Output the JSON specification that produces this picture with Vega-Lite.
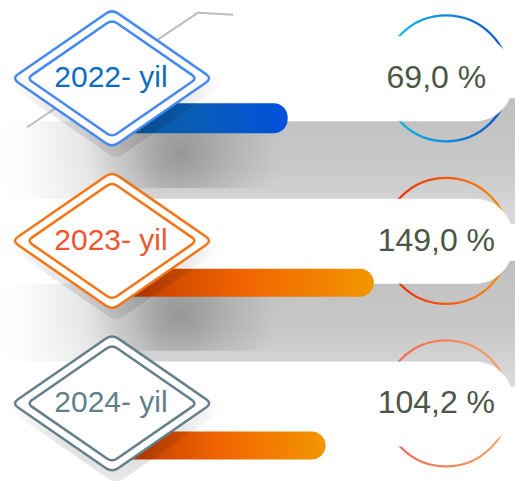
{
  "$schema": "https://vega.github.io/schema/vega-lite/v6.json",
  "width": 515,
  "height": 481,
  "autosize": {"type": "fit", "contains": "padding"},
  "padding": 0,
  "background": "white",
  "config": {"view": {"stroke": null}, "font": "Liberation Sans"},
  "data": {"values": [
    {"year": 2022, "label": "2022- yil", "value": 69.0},
    {"year": 2023, "label": "2023- yil", "value": 149.0},
    {"year": 2024, "label": "2024- yil", "value": 104.2}
  ]},
  "layer": [
    {
      "transform": [{"filter": "datum.year < 2024"}],
      "mark": {"type": "rect", "yOffset": 20, "y2Offset": 146,
        "fill": {"gradient": "linear", "x1": 0, "y1": 0, "x2": 0, "y2": 1, "stops": [
          {"offset": 0, "color": "#c0c0c0"}, {"offset": 0.55, "color": "#c8c8c8"}, {"offset": 1, "color": "#dcdcdc"}]}},
      "encoding": {
        "x": {"datum": -198, "type": "quantitative", "scale": {"domain": [-198, 280], "nice": false, "zero": false}, "axis": null},
        "x2": {"datum": 280},
        "y": {"field": "year", "type": "quantitative", "scale": {"domain": [2021.518, 2024.416], "reverse": true, "nice": false, "zero": false}, "axis": null},
        "y2": {"field": "year"}
      }
    },
    {
      "transform": [{"filter": "datum.year < 2024"}],
      "mark": {"type": "rect", "yOffset": 20, "y2Offset": 146,
        "fill": {"gradient": "linear", "x1": 0, "y1": 0, "x2": 1, "y2": 0, "stops": [
          {"offset": 0, "color": "rgba(255,255,255,1)"}, {"offset": 0.15, "color": "rgba(255,255,255,0.95)"}, {"offset": 0.6, "color": "rgba(255,255,255,0.5)"}, {"offset": 1, "color": "rgba(255,255,255,0)"}]}},
      "encoding": {
        "x": {"datum": -198, "type": "quantitative"},
        "x2": {"datum": -50},
        "y": {"field": "year", "type": "quantitative"},
        "y2": {"field": "year"}
      }
    },
    {
      "transform": [{"filter": "datum.year < 2024"}],
      "mark": {"type": "rect", "yOffset": 40, "y2Offset": 110,
        "fill": {"gradient": "radial", "x1": 0.5, "y1": 0.5, "r1": 0, "x2": 0.5, "y2": 0.5, "r2": 0.5, "stops": [
          {"offset": 0, "color": "rgba(0,0,0,0.24)"}, {"offset": 0.5, "color": "rgba(0,0,0,0.1)"}, {"offset": 1, "color": "rgba(0,0,0,0)"}]}},
      "encoding": {
        "x": {"datum": -120, "type": "quantitative"},
        "x2": {"datum": 60},
        "y": {"field": "year", "type": "quantitative"},
        "y2": {"field": "year"}
      }
    },
    {
      "transform": [{"filter": "datum.year == 2022"}],
      "mark": {"type": "point", "shape": "circle", "filled": false, "size": 15876, "strokeWidth": 2.2, "opacity": 1,
        "stroke": {"gradient": "linear", "x1": 0, "y1": 0, "x2": 1, "y2": 0, "stops": [
          {"offset": 0, "color": "#12c6e6"}, {"offset": 1, "color": "#0850d0"}]}},
      "encoding": {"x": {"datum": 216, "type": "quantitative"}, "y": {"field": "year", "type": "quantitative"}}
    },
    {
      "transform": [{"filter": "datum.year == 2023"}],
      "mark": {"type": "point", "shape": "circle", "filled": false, "size": 15876, "strokeWidth": 2.2, "opacity": 1,
        "stroke": {"gradient": "linear", "x1": 0, "y1": 0, "x2": 1, "y2": 0, "stops": [
          {"offset": 0, "color": "#f01e00"}, {"offset": 1, "color": "#f59010"}]}},
      "encoding": {"x": {"datum": 216, "type": "quantitative"}, "y": {"field": "year", "type": "quantitative"}}
    },
    {
      "transform": [{"filter": "datum.year == 2024"}],
      "mark": {"type": "point", "shape": "circle", "filled": false, "size": 15876, "strokeWidth": 2.2, "opacity": 1,
        "stroke": {"gradient": "linear", "x1": 0, "y1": 0, "x2": 1, "y2": 0, "stops": [
          {"offset": 0, "color": "#f06050"}, {"offset": 1, "color": "#f5a868"}]}},
      "encoding": {"x": {"datum": 216, "type": "quantitative"}, "y": {"field": "year", "type": "quantitative"}}
    },
    {
      "mark": {"type": "rect", "fill": "white", "cornerRadiusTopRight": 38, "cornerRadiusBottomRight": 38, "yOffset": -42, "y2Offset": 43},
      "encoding": {
        "x": {"datum": -198, "type": "quantitative"},
        "x2": {"datum": 278},
        "y": {"field": "year", "type": "quantitative"},
        "y2": {"field": "year"}
      }
    },
    {
      "transform": [{"filter": "datum.year == 2022"}],
      "mark": {"type": "rect", "cornerRadius": 14, "yOffset": 25, "y2Offset": 55,
        "fill": {"gradient": "linear", "x1": 0, "y1": 0, "x2": 1, "y2": 0, "stops": [
          {"offset": 0, "color": "#0a5a98"}, {"offset": 0.5, "color": "#0a5cb8"}, {"offset": 1, "color": "#0050dc"}]}},
      "encoding": {
        "x": {"field": "value", "type": "quantitative"},
        "x2": {"datum": -96},
        "y": {"field": "year", "type": "quantitative"},
        "y2": {"field": "year"}
      }
    },
    {
      "transform": [{"filter": "datum.year > 2022"}],
      "mark": {"type": "rect", "cornerRadius": 14, "yOffset": 28, "y2Offset": 56,
        "fill": {"gradient": "linear", "x1": 0, "y1": 0, "x2": 1, "y2": 0, "stops": [
          {"offset": 0, "color": "#b83400"}, {"offset": 0.5, "color": "#f06400"}, {"offset": 1, "color": "#f39600"}]}},
      "encoding": {
        "x": {"field": "value", "type": "quantitative"},
        "x2": {"datum": -96},
        "y": {"field": "year", "type": "quantitative"},
        "y2": {"field": "year"}
      }
    },
    {
      "transform": [{"filter": "datum.year == 2022"}],
      "mark": {"type": "rule", "color": "#bdbdbd", "strokeWidth": 2},
      "encoding": {
        "x": {"datum": -172.9, "type": "quantitative"},
        "x2": {"datum": -14.2},
        "y": {"datum": 2022.301, "type": "quantitative"},
        "y2": {"datum": 2021.596}
      }
    },
    {
      "transform": [{"filter": "datum.year == 2022"}],
      "mark": {"type": "rule", "color": "#bdbdbd", "strokeWidth": 2},
      "encoding": {
        "x": {"datum": -14.2, "type": "quantitative"},
        "x2": {"datum": 18.3},
        "y": {"datum": 2021.596, "type": "quantitative"},
        "y2": {"datum": 2021.608}
      }
    },
    {
      "mark": {"type": "point", "shape": "M -0.94 -0.041 L -0.06 -0.649 Q 0 -0.69 0.06 -0.649 L 0.94 -0.041 Q 1 0 0.94 0.041 L 0.06 0.649 Q 0 0.69 -0.06 0.649 L -0.94 0.041 Q -1 0 -0.94 -0.041 Z",
        "size": 47000, "filled": true, "strokeWidth": 0, "opacity": 1, "xOffset": 4, "yOffset": 6,
        "fill": {"gradient": "radial", "x1": 0.5, "y1": 0.5, "r1": 0, "x2": 0.5, "y2": 0.5, "r2": 0.5, "stops": [
          {"offset": 0, "color": "rgba(0,0,0,0.2)"}, {"offset": 0.6, "color": "rgba(0,0,0,0.1)"}, {"offset": 1, "color": "rgba(0,0,0,0)"}]}},
      "encoding": {
        "x": {"datum": -94, "type": "quantitative"},
        "y": {"field": "year", "type": "quantitative"}
      }
    },
    {
      "mark": {"type": "point", "shape": "M -0.94 -0.041 L -0.06 -0.649 Q 0 -0.69 0.06 -0.649 L 0.94 -0.041 Q 1 0 0.94 0.041 L 0.06 0.649 Q 0 0.69 -0.06 0.649 L -0.94 0.041 Q -1 0 -0.94 -0.041 Z",
        "size": 40000, "filled": true, "fill": "white", "strokeWidth": 2.5, "opacity": 1},
      "encoding": {
        "x": {"datum": -94, "type": "quantitative"},
        "y": {"field": "year", "type": "quantitative"},
        "stroke": {"field": "label", "type": "nominal", "scale": {"domain": ["2022- yil", "2023- yil", "2024- yil"], "range": ["#4488f2", "#f57414", "#647f8a"]}, "legend": null}
      }
    },
    {
      "mark": {"type": "point", "shape": "M -0.94 -0.041 L -0.06 -0.649 Q 0 -0.69 0.06 -0.649 L 0.94 -0.041 Q 1 0 0.94 0.041 L 0.06 0.649 Q 0 0.69 -0.06 0.649 L -0.94 0.041 Q -1 0 -0.94 -0.041 Z",
        "size": 28900, "filled": false, "strokeWidth": 2.5, "opacity": 1},
      "encoding": {
        "x": {"datum": -94, "type": "quantitative"},
        "y": {"field": "year", "type": "quantitative"},
        "stroke": {"field": "label", "type": "nominal", "scale": {"domain": ["2022- yil", "2023- yil", "2024- yil"], "range": ["#4488f2", "#f57414", "#647f8a"]}, "legend": null}
      }
    },
    {
      "mark": {"type": "text", "fontSize": 30, "align": "center", "baseline": "middle"},
      "encoding": {
        "x": {"datum": -95, "type": "quantitative"},
        "y": {"field": "year", "type": "quantitative"},
        "text": {"field": "label", "type": "nominal"},
        "fill": {"field": "label", "type": "nominal", "scale": {"domain": ["2022- yil", "2023- yil", "2024- yil"], "range": ["#0b6cc0", "#f05530", "#61808c"]}, "legend": null}
      }
    },
    {
      "transform": [{"calculate": "replace(format(datum.value, '.1f'), '.', ',') + ' %'", "as": "valueText"}],
      "mark": {"type": "text", "fontSize": 32, "align": "center", "baseline": "middle", "fill": "#4b5646"},
      "encoding": {
        "x": {"datum": 207, "type": "quantitative"},
        "y": {"field": "year", "type": "quantitative"},
        "text": {"field": "valueText", "type": "nominal"}
      }
    }
  ]
}
